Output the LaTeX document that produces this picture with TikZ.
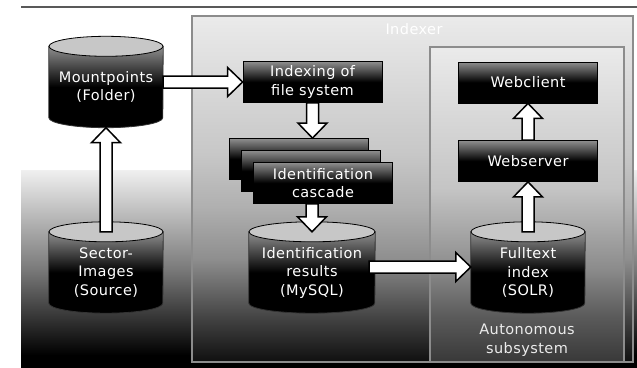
\documentclass[tikz,border=0pt]{standalone}
\usepackage{fontspec}
\usepackage{tikz}
\usetikzlibrary{calc}
\newfontfamily\diafont[LetterSpace=3]{DejaVu Sans}

\definecolor{cyltop}{gray}{0.78}
\definecolor{boxtop}{gray}{0.56}
\definecolor{panelline}{gray}{0.55}
\definecolor{rulegray}{gray}{0.35}

\pgfdeclarelayer{back}
\pgfdeclarelayer{mid}
\pgfsetlayers{back,mid,main}

\pgfdeclareverticalshading{boxshade}{100bp}{color(0bp)=(black); color(50bp)=(black); color(75bp)=(boxtop); color(100bp)=(boxtop)}
\pgfdeclareverticalshading{outershade}{100bp}{color(0bp)=(black); color(28bp)=(black); color(50bp)=(black!52); color(75bp)=(black!6); color(100bp)=(black!6)}
\pgfdeclareverticalshading{indexshade}{100bp}{color(0bp)=(black!94); color(25bp)=(black!94); color(31bp)=(black!75); color(40bp)=(black!44); color(47.5bp)=(black!31); color(55bp)=(black!22); color(75bp)=(black!8); color(100bp)=(black!8)}
\pgfdeclareverticalshading{autoshade}{100bp}{color(0bp)=(black!78); color(25bp)=(black!78); color(32.5bp)=(black!64); color(40bp)=(black!45); color(52.5bp)=(black!23); color(75bp)=(black!8); color(100bp)=(black!8)}

% fat white arrow from #1 to #2
\newcommand{\blockarrow}[2]{%
  \draw[blockarrow] let \p1=(#1), \p2=(#2),
    \n1={atan2(\y2-\y1,\x2-\x1)}, \n2={veclen(\x2-\x1,\y2-\y1)} in
    ($(\p1)+(\n1+90:6pt)$) -- ($(\p1)+(\n1:{\n2-15pt})+(\n1+90:6pt)$)
    -- ($(\p1)+(\n1:{\n2-15pt})+(\n1+90:14.5pt)$) -- (\p2)
    -- ($(\p1)+(\n1:{\n2-15pt})+(\n1-90:14.5pt)$)
    -- ($(\p1)+(\n1:{\n2-15pt})+(\n1-90:6pt)$)
    -- ($(\p1)+(\n1-90:6pt)$) -- cycle;
}

\begin{document}
\begin{tikzpicture}[x=1pt, y=-1pt,
    lbl/.style={font=\diafont\fontsize{14.5pt}{18.5pt}\selectfont, text=white, align=center, inner sep=0pt},
    dbnode/.style={lbl, minimum height=81pt},
    procbox/.style={lbl, draw=black, line width=0.8pt, shade, shading=boxshade, minimum width=139pt, minimum height=41pt},
    blockarrow/.style={draw=black, fill=white, line width=1.5pt, line join=miter},
    panel/.style={draw=panelline, line width=1.3pt}]
    \useasboundingbox (0,0) rectangle (637,367);

    % Panels
    \begin{pgfonlayer}{back}
      \draw[rulegray, line width=1.2pt] (21,7) -- (637,7);
      \shade[shading=outershade] (21,170) rectangle (637,367);
      \shadedraw[shading=indexshade, panel] (192,16) rectangle (633,362);
      \shadedraw[shading=autoshade, panel] (430,47) rectangle (624,362);
    \end{pgfonlayer}
    \node[lbl] (indexerlbl) at (414,29) {Indexer};
    \node[lbl, text=black!8] (autolbl) at (527,340) {Autonomous\\subsystem};

    % Databases
    \node[dbnode, minimum width=114pt] (mount) at (106,87) {Mountpoints\\(Folder)};
    \node[dbnode, minimum width=114pt] (sector) at (106,272.5) {Sector-\\Images\\(Source)};
    \node[dbnode, minimum width=126pt] (idres) at (312,272.5) {Identification\\results\\(MySQL)};
    \node[dbnode, minimum width=114pt] (fulltext) at (528,272.5) {Fulltext\\index\\(SOLR)};
    \begin{pgfonlayer}{mid}
      \foreach \n/\r in {mount/57, sector/57, idres/63, fulltext/57} {
        \shadedraw[shading=boxshade, draw=black!80, line width=0.8pt] (\n.north west) -- ([yshift=10pt]\n.south west)
          arc[start angle=180, end angle=360, x radius=\r pt, y radius=10pt] -- (\n.north east) -- cycle;
        \filldraw[fill=cyltop, draw=black, line width=0.8pt] (\n.north) ellipse[x radius=\r pt, y radius=10pt];
      }
    \end{pgfonlayer}

    % Process boxes
    \node[procbox] (index) at (312.5,82) {Indexing of\\file system};
    \node[procbox] (casc1) at (299,159) {};
    \node[procbox] (casc2) at (311,171) {};
    \node[procbox] (casc3) at (323,183) {Identification\\cascade};
    \node[procbox] (webclient) at (528,82.5) {Webclient};
    \node[procbox] (webserver) at (528,161) {Webserver};

    % Arrows
    \blockarrow{sector.north}{mount.south}
    \blockarrow{index.west -| mount.east}{index.west}
    \blockarrow{index.south}{index.south |- casc1.north}
    \blockarrow{idres.north |- casc3.south}{idres.north}
    \blockarrow{[shift={(-6pt,5.5pt)}]idres.east}{[yshift=5.5pt]fulltext.west}
    \blockarrow{fulltext.north}{webserver.south}
    \blockarrow{webserver.north}{webclient.south}
\end{tikzpicture}
\end{document}
